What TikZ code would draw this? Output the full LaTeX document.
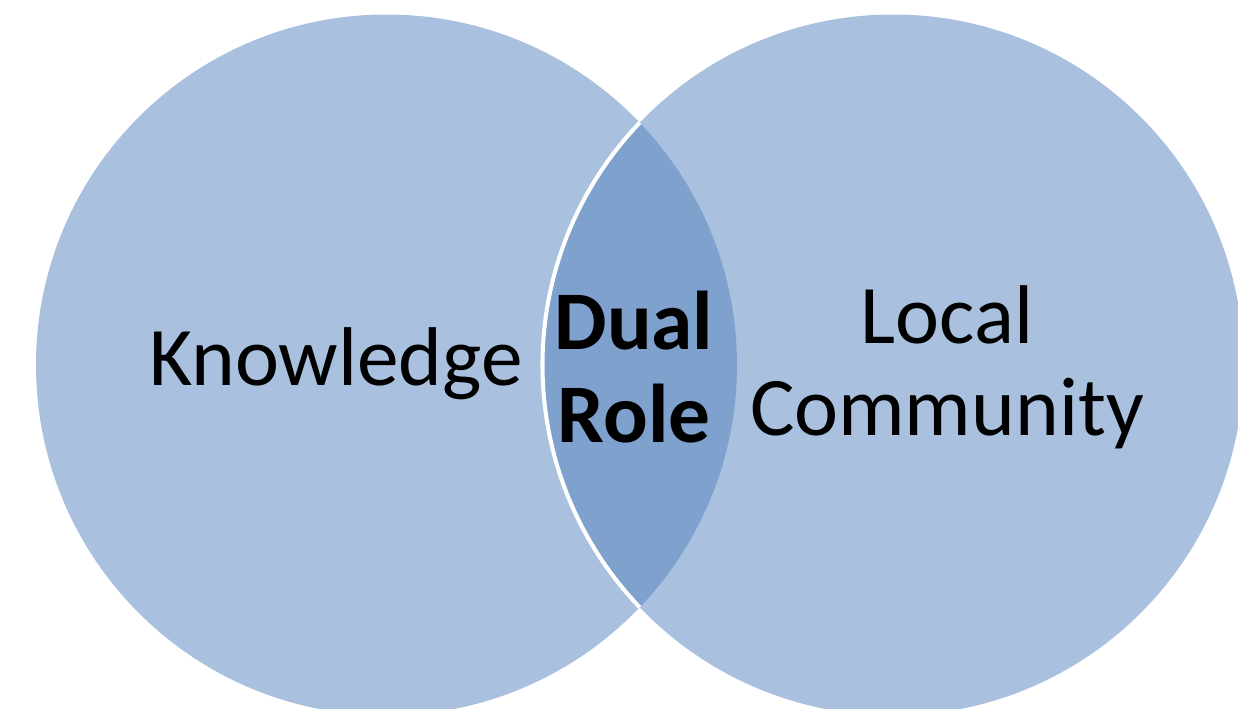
\documentclass[tikz,border=0pt]{standalone}
\usepackage{fontspec}
\setmainfont{Carlito}
\definecolor{lightblue}{RGB}{169,193,222}
\definecolor{darkblue}{RGB}{126,161,205}

\begin{document}
\begin{tikzpicture}[x=0.01cm, y=-0.01cm,
    label/.style={font=\fontsize{23.7}{26.2}\selectfont, align=center, text=black}]
    \useasboundingbox (0,0) rectangle (1238,709);
    \clip (0,0) rectangle (1238,709);

    % the two sets
    \fill[lightblue] (386.5,365) circle [radius=350.5];
    \fill[lightblue] (893,365) circle [radius=350.5];

    % overlap
    \begin{scope}
        \clip (386.5,365) circle [radius=350.5];
        \fill[darkblue] (893,365) circle [radius=350.5];
        \draw[white, line width=1.15pt] (893,365) circle [radius=350.5];
    \end{scope}

    \node[label] (knowledge) at (336,364) {Knowledge};
    \node[label, font=\fontsize{23.7}{26.2}\selectfont\bfseries] (dual) at (634,367) {Dual\\Role};
    \node[label] (community) at (947,367) {Local\\Community};

\end{tikzpicture}
\end{document}
